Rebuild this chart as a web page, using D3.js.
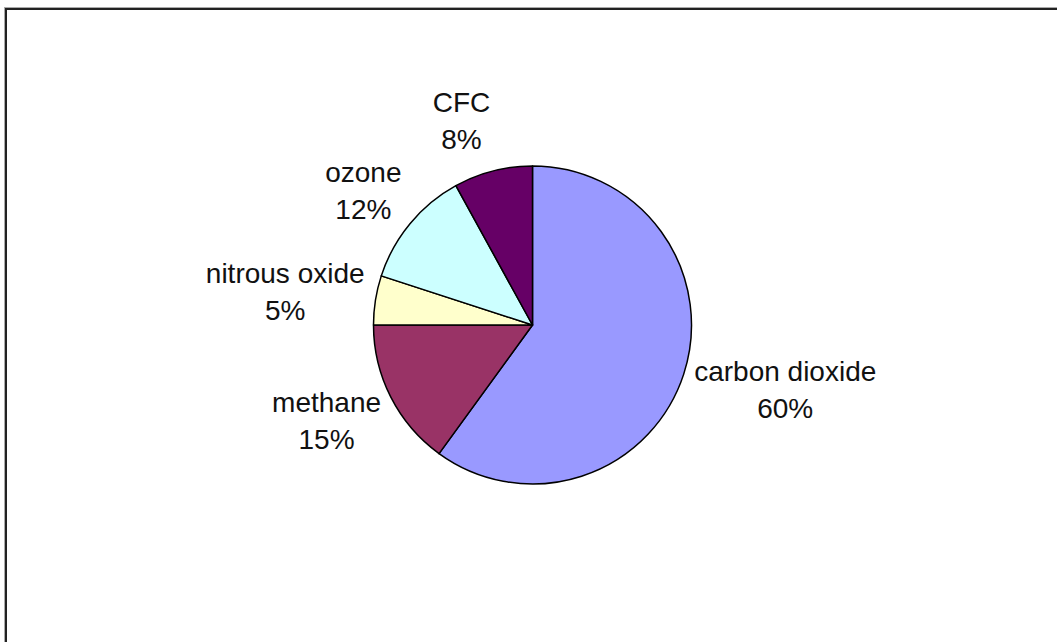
<!DOCTYPE html>
<html><head><meta charset="utf-8">
<script src="https://cdn.jsdelivr.net/npm/d3@7"></script>
<style>html,body{margin:0;padding:0;background:#fff;overflow:hidden}</style>
</head><body>
<svg id="chart" width="1057" height="642"></svg>
<script>
const categories = ["carbon dioxide", "methane", "nitrous oxide", "ozone", "CFC"];
const values = [60, 15, 5, 12, 8];
const percentLabels = ["60%", "15%", "5%", "12%", "8%"];
const colors = ["#9999FF", "#993366", "#FFFFCC", "#CCFFFF", "#660066"];

const W = 1057, H = 642;
const cx = 532.5, cy = 325, R = 159;
const svg = d3.select("#chart");

// frame
svg.append("rect").attr("x", 4.5).attr("y", 7.5).attr("width", 1100).attr("height", 700)
  .attr("fill", "none").attr("stroke", "#aaa").attr("stroke-width", 1);
svg.append("rect").attr("x", 6).attr("y", 9).attr("width", 1100).attr("height", 700)
  .attr("fill", "none").attr("stroke", "#222").attr("stroke-width", 2);

const data = categories.map((c, i) => ({cat: c, value: values[i], pct: percentLabels[i], color: colors[i]}));
const pie = d3.pie().value(d => d.value).sort(null);
const arcs = pie(data);
const arc = d3.arc().innerRadius(0).outerRadius(R);

const g = svg.append("g").attr("transform", `translate(${cx},${cy})`);
g.selectAll("path").data(arcs).join("path")
  .attr("d", arc)
  .attr("fill", d => d.data.color)
  .attr("stroke", "#000")
  .attr("stroke-width", 1.5)
  .attr("stroke-linejoin", "round");

// labels
const RX = 170, RY = 211, LH = 37;
const lab = g.selectAll("text.lbl").data(arcs).join("text")
  .attr("class", "lbl")
  .attr("font-family", "'Liberation Sans', Arial, sans-serif")
  .attr("font-size", 28)
  .attr("fill", "#111");
lab.each(function(d) {
  const a = (d.startAngle + d.endAngle) / 2;
  const dx = Math.sin(a), dy = -Math.cos(a);
  const x = RX * dx;
  const yc = RY * dy;
  const t = d3.select(this).attr("text-anchor", dx >= 0 ? "start" : "end");
  t.append("tspan").attr("x", 0).attr("y", yc - 9).text(d.data.cat);
  t.append("tspan").attr("x", 0).attr("y", yc - 9 + LH).text(d.data.pct);
  const bb = this.getBBox();
  const w = bb.width;
  const centerX = dx >= 0 ? x + w / 2 : x - w / 2;
  t.attr("text-anchor", "middle");
  t.selectAll("tspan").attr("x", centerX);
});
</script>
</body></html>
